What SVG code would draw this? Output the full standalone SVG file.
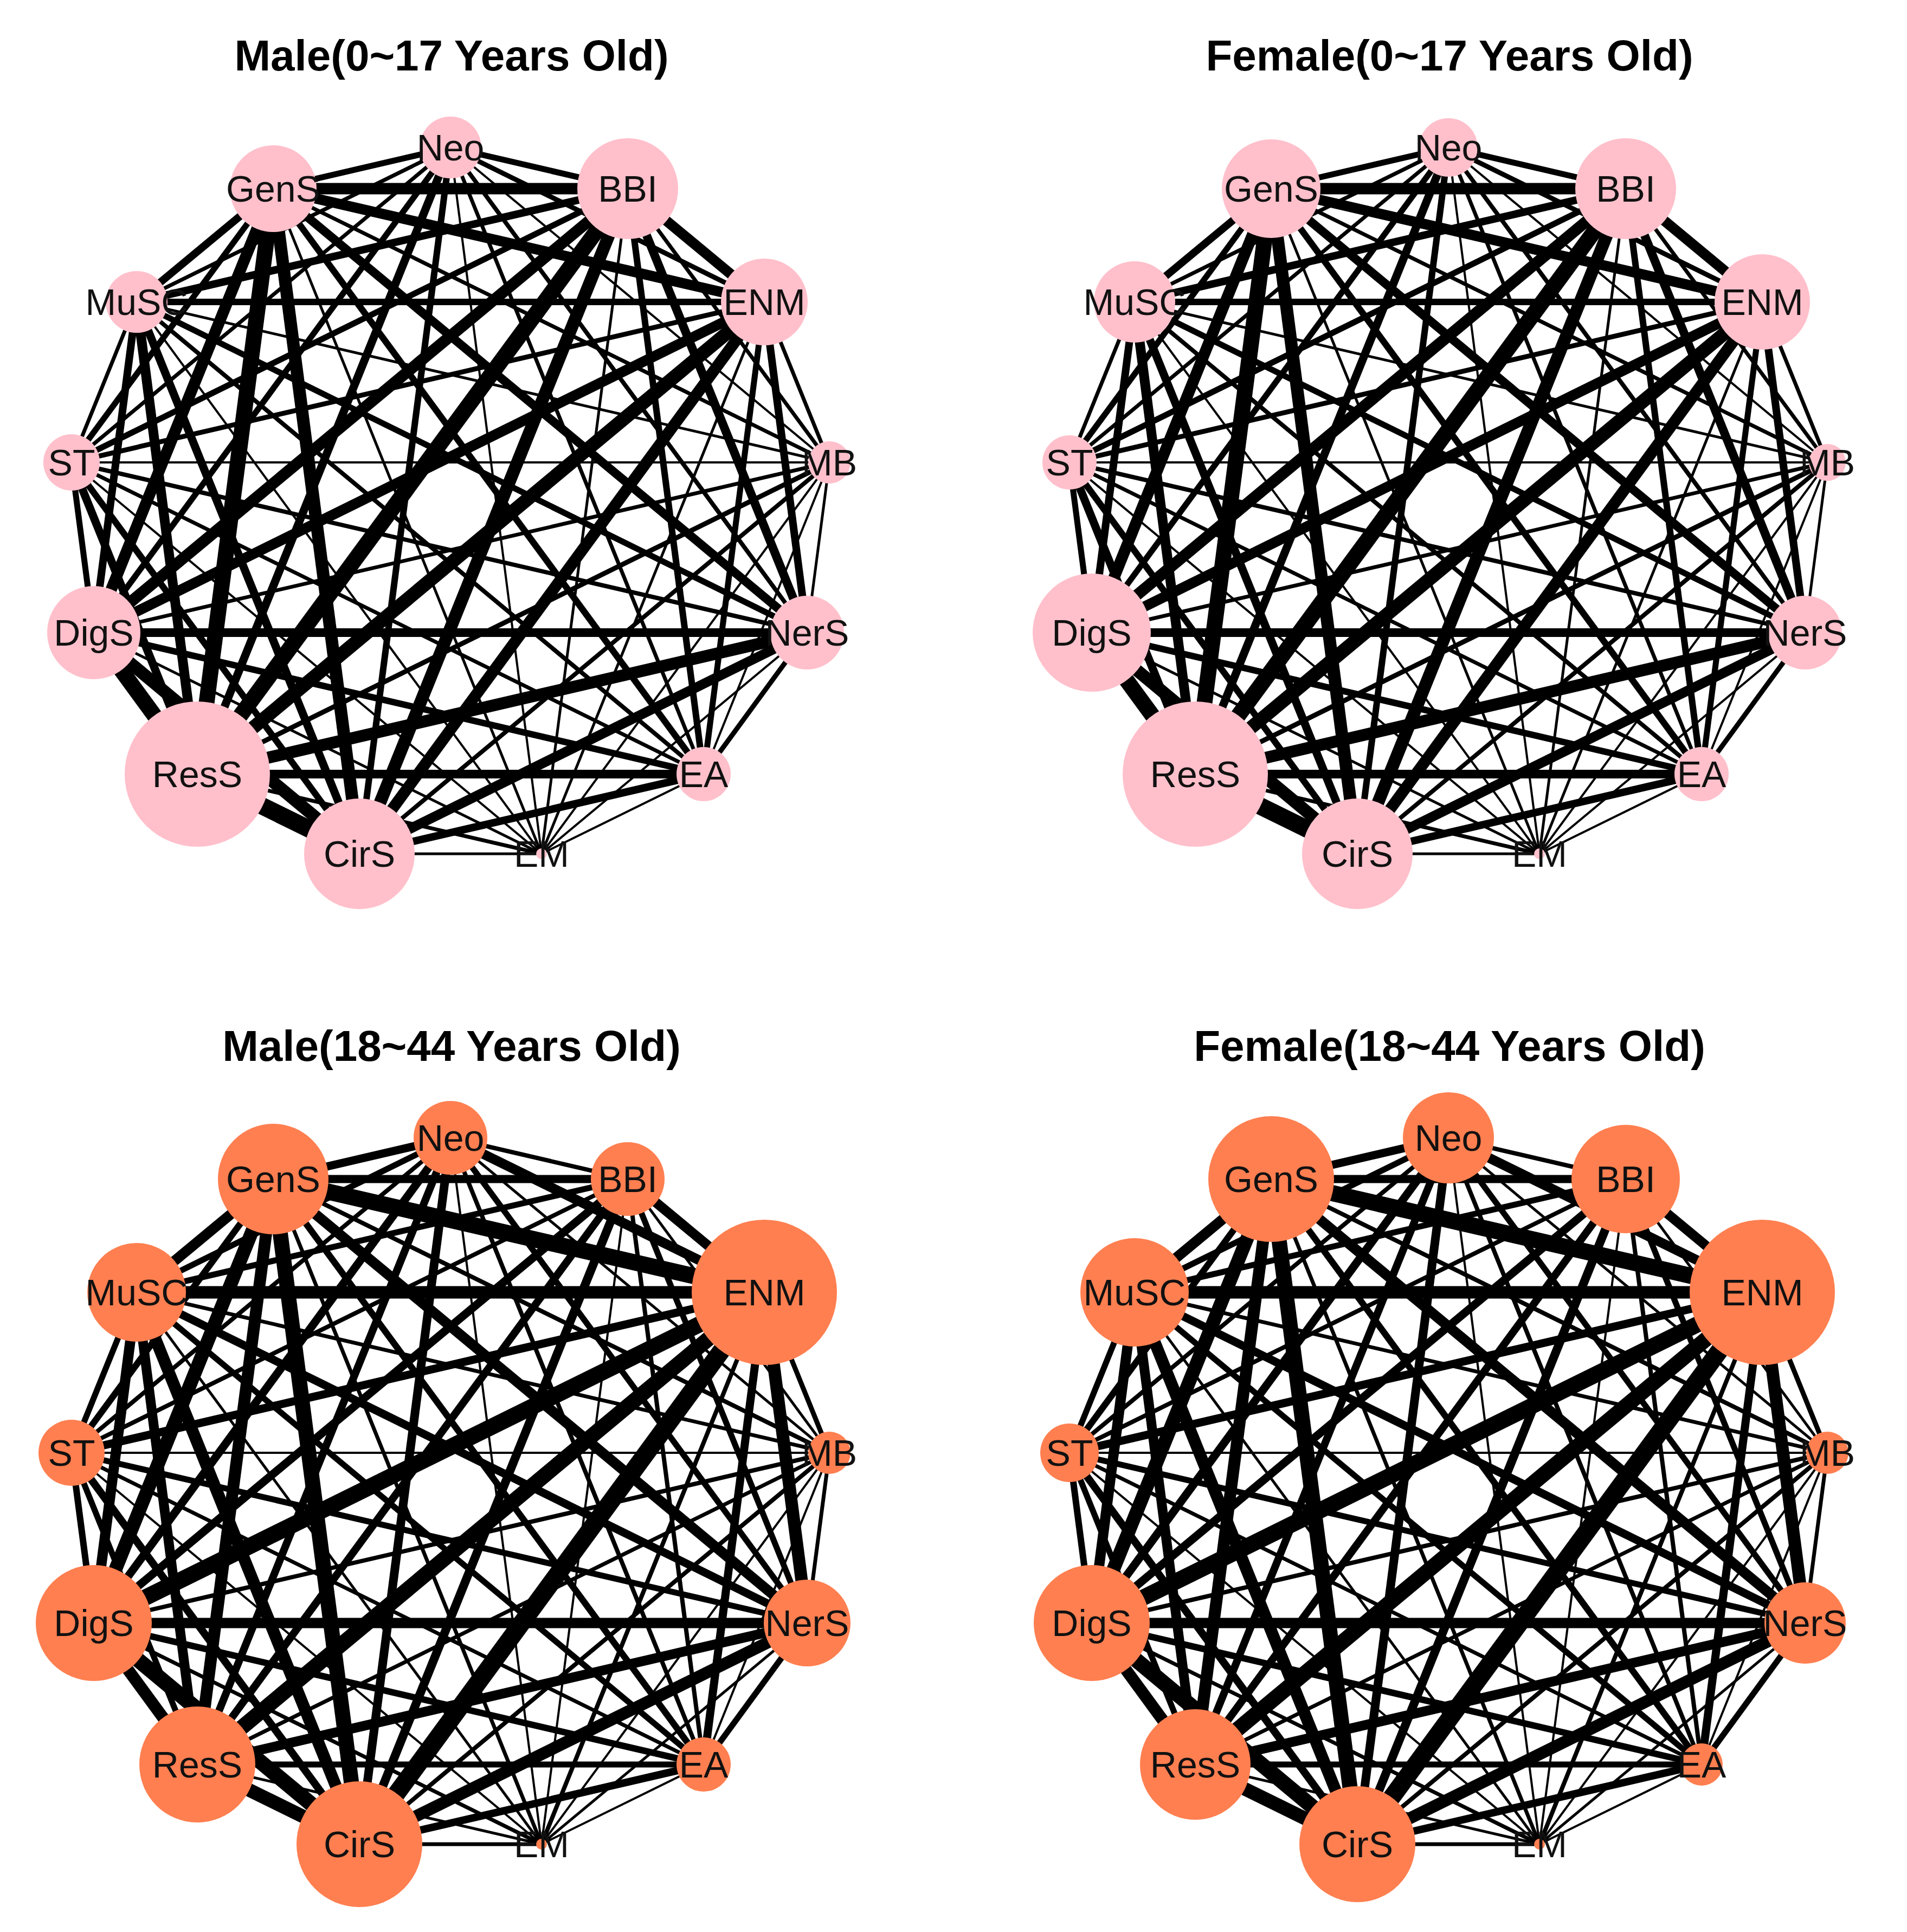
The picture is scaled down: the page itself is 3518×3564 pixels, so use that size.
<svg xmlns="http://www.w3.org/2000/svg" xmlns:xlink="http://www.w3.org/1999/xlink" width="3518" height="3564" viewBox="0 0 3518 3564">
<style>
.t{font-family:"Liberation Sans",Arial,sans-serif;font-weight:bold;font-size:80px;text-anchor:middle;fill:#000}
.l{font-family:"Liberation Sans",Arial,sans-serif;font-size:68px;text-anchor:middle;dominant-baseline:central;fill:#111}
.p{fill:#FFC0CB}
.o{fill:#FF7F50}
line{stroke:#000;stroke-linecap:butt}
</style>
<defs>
<g id="eT">
<line x1="831" y1="272" x2="1158" y2="348" stroke-width="11"/>
<line x1="831" y1="272" x2="1410" y2="557" stroke-width="9"/>
<line x1="831" y1="272" x2="1530" y2="853" stroke-width="4"/>
<line x1="831" y1="272" x2="1489" y2="1167" stroke-width="8"/>
<line x1="831" y1="272" x2="1298" y2="1428" stroke-width="7"/>
<line x1="831" y1="272" x2="999" y2="1575" stroke-width="4"/>
<line x1="831" y1="272" x2="663" y2="1575" stroke-width="12"/>
<line x1="831" y1="272" x2="364" y2="1428" stroke-width="15"/>
<line x1="831" y1="272" x2="173" y2="1167" stroke-width="11"/>
<line x1="831" y1="272" x2="132" y2="853" stroke-width="7"/>
<line x1="831" y1="272" x2="252" y2="557" stroke-width="7"/>
<line x1="831" y1="272" x2="504" y2="348" stroke-width="11"/>
<line x1="1158" y1="348" x2="1410" y2="557" stroke-width="19"/>
<line x1="1158" y1="348" x2="1530" y2="853" stroke-width="7"/>
<line x1="1158" y1="348" x2="1489" y2="1167" stroke-width="16"/>
<line x1="1158" y1="348" x2="1298" y2="1428" stroke-width="12"/>
<line x1="1158" y1="348" x2="999" y2="1575" stroke-width="5"/>
<line x1="1158" y1="348" x2="663" y2="1575" stroke-width="23"/>
<line x1="1158" y1="348" x2="364" y2="1428" stroke-width="29"/>
<line x1="1158" y1="348" x2="173" y2="1167" stroke-width="21"/>
<line x1="1158" y1="348" x2="132" y2="853" stroke-width="11"/>
<line x1="1158" y1="348" x2="252" y2="557" stroke-width="14"/>
<line x1="1158" y1="348" x2="504" y2="348" stroke-width="21"/>
<line x1="1410" y1="557" x2="1530" y2="853" stroke-width="7"/>
<line x1="1410" y1="557" x2="1489" y2="1167" stroke-width="14"/>
<line x1="1410" y1="557" x2="1298" y2="1428" stroke-width="11"/>
<line x1="1410" y1="557" x2="999" y2="1575" stroke-width="5"/>
<line x1="1410" y1="557" x2="663" y2="1575" stroke-width="21"/>
<line x1="1410" y1="557" x2="364" y2="1428" stroke-width="25"/>
<line x1="1410" y1="557" x2="173" y2="1167" stroke-width="19"/>
<line x1="1410" y1="557" x2="132" y2="853" stroke-width="9"/>
<line x1="1410" y1="557" x2="252" y2="557" stroke-width="12"/>
<line x1="1410" y1="557" x2="504" y2="348" stroke-width="19"/>
<line x1="1530" y1="853" x2="1489" y2="1167" stroke-width="5"/>
<line x1="1530" y1="853" x2="1298" y2="1428" stroke-width="4"/>
<line x1="1530" y1="853" x2="999" y2="1575" stroke-width="4"/>
<line x1="1530" y1="853" x2="663" y2="1575" stroke-width="8"/>
<line x1="1530" y1="853" x2="364" y2="1428" stroke-width="9"/>
<line x1="1530" y1="853" x2="173" y2="1167" stroke-width="7"/>
<line x1="1530" y1="853" x2="132" y2="853" stroke-width="4"/>
<line x1="1530" y1="853" x2="252" y2="557" stroke-width="5"/>
<line x1="1530" y1="853" x2="504" y2="348" stroke-width="7"/>
<line x1="1489" y1="1167" x2="1298" y2="1428" stroke-width="9"/>
<line x1="1489" y1="1167" x2="999" y2="1575" stroke-width="4"/>
<line x1="1489" y1="1167" x2="663" y2="1575" stroke-width="18"/>
<line x1="1489" y1="1167" x2="364" y2="1428" stroke-width="22"/>
<line x1="1489" y1="1167" x2="173" y2="1167" stroke-width="16"/>
<line x1="1489" y1="1167" x2="132" y2="853" stroke-width="8"/>
<line x1="1489" y1="1167" x2="252" y2="557" stroke-width="11"/>
<line x1="1489" y1="1167" x2="504" y2="348" stroke-width="16"/>
<line x1="1298" y1="1428" x2="999" y2="1575" stroke-width="4"/>
<line x1="1298" y1="1428" x2="663" y2="1575" stroke-width="14"/>
<line x1="1298" y1="1428" x2="364" y2="1428" stroke-width="16"/>
<line x1="1298" y1="1428" x2="173" y2="1167" stroke-width="12"/>
<line x1="1298" y1="1428" x2="132" y2="853" stroke-width="7"/>
<line x1="1298" y1="1428" x2="252" y2="557" stroke-width="8"/>
<line x1="1298" y1="1428" x2="504" y2="348" stroke-width="12"/>
<line x1="999" y1="1575" x2="663" y2="1575" stroke-width="5"/>
<line x1="999" y1="1575" x2="364" y2="1428" stroke-width="7"/>
<line x1="999" y1="1575" x2="173" y2="1167" stroke-width="5"/>
<line x1="999" y1="1575" x2="132" y2="853" stroke-width="4"/>
<line x1="999" y1="1575" x2="252" y2="557" stroke-width="4"/>
<line x1="999" y1="1575" x2="504" y2="348" stroke-width="5"/>
<line x1="663" y1="1575" x2="364" y2="1428" stroke-width="32"/>
<line x1="663" y1="1575" x2="173" y2="1167" stroke-width="23"/>
<line x1="663" y1="1575" x2="132" y2="853" stroke-width="12"/>
<line x1="663" y1="1575" x2="252" y2="557" stroke-width="15"/>
<line x1="663" y1="1575" x2="504" y2="348" stroke-width="23"/>
<line x1="364" y1="1428" x2="173" y2="1167" stroke-width="29"/>
<line x1="364" y1="1428" x2="132" y2="853" stroke-width="15"/>
<line x1="364" y1="1428" x2="252" y2="557" stroke-width="18"/>
<line x1="364" y1="1428" x2="504" y2="348" stroke-width="29"/>
<line x1="173" y1="1167" x2="132" y2="853" stroke-width="11"/>
<line x1="173" y1="1167" x2="252" y2="557" stroke-width="14"/>
<line x1="173" y1="1167" x2="504" y2="348" stroke-width="21"/>
<line x1="132" y1="853" x2="252" y2="557" stroke-width="7"/>
<line x1="132" y1="853" x2="504" y2="348" stroke-width="11"/>
<line x1="252" y1="557" x2="504" y2="348" stroke-width="14"/>
</g>
<g id="eB">
<line x1="831" y1="272" x2="1158" y2="348" stroke-width="8"/>
<line x1="831" y1="272" x2="1410" y2="557" stroke-width="18"/>
<line x1="831" y1="272" x2="1530" y2="853" stroke-width="5"/>
<line x1="831" y1="272" x2="1489" y2="1167" stroke-width="11"/>
<line x1="831" y1="272" x2="1298" y2="1428" stroke-width="8"/>
<line x1="831" y1="272" x2="999" y2="1575" stroke-width="4"/>
<line x1="831" y1="272" x2="663" y2="1575" stroke-width="16"/>
<line x1="831" y1="272" x2="364" y2="1428" stroke-width="14"/>
<line x1="831" y1="272" x2="173" y2="1167" stroke-width="15"/>
<line x1="831" y1="272" x2="132" y2="853" stroke-width="8"/>
<line x1="831" y1="272" x2="252" y2="557" stroke-width="11"/>
<line x1="831" y1="272" x2="504" y2="348" stroke-width="15"/>
<line x1="1158" y1="348" x2="1410" y2="557" stroke-width="18"/>
<line x1="1158" y1="348" x2="1530" y2="853" stroke-width="5"/>
<line x1="1158" y1="348" x2="1489" y2="1167" stroke-width="11"/>
<line x1="1158" y1="348" x2="1298" y2="1428" stroke-width="8"/>
<line x1="1158" y1="348" x2="999" y2="1575" stroke-width="4"/>
<line x1="1158" y1="348" x2="663" y2="1575" stroke-width="16"/>
<line x1="1158" y1="348" x2="364" y2="1428" stroke-width="14"/>
<line x1="1158" y1="348" x2="173" y2="1167" stroke-width="15"/>
<line x1="1158" y1="348" x2="132" y2="853" stroke-width="8"/>
<line x1="1158" y1="348" x2="252" y2="557" stroke-width="11"/>
<line x1="1158" y1="348" x2="504" y2="348" stroke-width="15"/>
<line x1="1410" y1="557" x2="1530" y2="853" stroke-width="9"/>
<line x1="1410" y1="557" x2="1489" y2="1167" stroke-width="23"/>
<line x1="1410" y1="557" x2="1298" y2="1428" stroke-width="15"/>
<line x1="1410" y1="557" x2="999" y2="1575" stroke-width="8"/>
<line x1="1410" y1="557" x2="663" y2="1575" stroke-width="33"/>
<line x1="1410" y1="557" x2="364" y2="1428" stroke-width="28"/>
<line x1="1410" y1="557" x2="173" y2="1167" stroke-width="30"/>
<line x1="1410" y1="557" x2="132" y2="853" stroke-width="15"/>
<line x1="1410" y1="557" x2="252" y2="557" stroke-width="23"/>
<line x1="1410" y1="557" x2="504" y2="348" stroke-width="30"/>
<line x1="1530" y1="853" x2="1489" y2="1167" stroke-width="7"/>
<line x1="1530" y1="853" x2="1298" y2="1428" stroke-width="4"/>
<line x1="1530" y1="853" x2="999" y2="1575" stroke-width="4"/>
<line x1="1530" y1="853" x2="663" y2="1575" stroke-width="8"/>
<line x1="1530" y1="853" x2="364" y2="1428" stroke-width="7"/>
<line x1="1530" y1="853" x2="173" y2="1167" stroke-width="8"/>
<line x1="1530" y1="853" x2="132" y2="853" stroke-width="4"/>
<line x1="1530" y1="853" x2="252" y2="557" stroke-width="7"/>
<line x1="1530" y1="853" x2="504" y2="348" stroke-width="8"/>
<line x1="1489" y1="1167" x2="1298" y2="1428" stroke-width="11"/>
<line x1="1489" y1="1167" x2="999" y2="1575" stroke-width="5"/>
<line x1="1489" y1="1167" x2="663" y2="1575" stroke-width="22"/>
<line x1="1489" y1="1167" x2="364" y2="1428" stroke-width="18"/>
<line x1="1489" y1="1167" x2="173" y2="1167" stroke-width="19"/>
<line x1="1489" y1="1167" x2="132" y2="853" stroke-width="11"/>
<line x1="1489" y1="1167" x2="252" y2="557" stroke-width="15"/>
<line x1="1489" y1="1167" x2="504" y2="348" stroke-width="19"/>
<line x1="1298" y1="1428" x2="999" y2="1575" stroke-width="4"/>
<line x1="1298" y1="1428" x2="663" y2="1575" stroke-width="14"/>
<line x1="1298" y1="1428" x2="364" y2="1428" stroke-width="11"/>
<line x1="1298" y1="1428" x2="173" y2="1167" stroke-width="12"/>
<line x1="1298" y1="1428" x2="132" y2="853" stroke-width="7"/>
<line x1="1298" y1="1428" x2="252" y2="557" stroke-width="11"/>
<line x1="1298" y1="1428" x2="504" y2="348" stroke-width="12"/>
<line x1="999" y1="1575" x2="663" y2="1575" stroke-width="7"/>
<line x1="999" y1="1575" x2="364" y2="1428" stroke-width="5"/>
<line x1="999" y1="1575" x2="173" y2="1167" stroke-width="7"/>
<line x1="999" y1="1575" x2="132" y2="853" stroke-width="4"/>
<line x1="999" y1="1575" x2="252" y2="557" stroke-width="5"/>
<line x1="999" y1="1575" x2="504" y2="348" stroke-width="7"/>
<line x1="663" y1="1575" x2="364" y2="1428" stroke-width="25"/>
<line x1="663" y1="1575" x2="173" y2="1167" stroke-width="28"/>
<line x1="663" y1="1575" x2="132" y2="853" stroke-width="14"/>
<line x1="663" y1="1575" x2="252" y2="557" stroke-width="22"/>
<line x1="663" y1="1575" x2="504" y2="348" stroke-width="28"/>
<line x1="364" y1="1428" x2="173" y2="1167" stroke-width="22"/>
<line x1="364" y1="1428" x2="132" y2="853" stroke-width="11"/>
<line x1="364" y1="1428" x2="252" y2="557" stroke-width="18"/>
<line x1="364" y1="1428" x2="504" y2="348" stroke-width="22"/>
<line x1="173" y1="1167" x2="132" y2="853" stroke-width="12"/>
<line x1="173" y1="1167" x2="252" y2="557" stroke-width="19"/>
<line x1="173" y1="1167" x2="504" y2="348" stroke-width="25"/>
<line x1="132" y1="853" x2="252" y2="557" stroke-width="11"/>
<line x1="132" y1="853" x2="504" y2="348" stroke-width="12"/>
<line x1="252" y1="557" x2="504" y2="348" stroke-width="19"/>
</g>
</defs>
<rect width="3518" height="3564" fill="#fff"/>
<g id="titles">
<text class="t" x="833" y="130">Male(0~17 Years Old)</text>
<text class="t" x="2674" y="130">Female(0~17 Years Old)</text>
<text class="t" x="833" y="1957">Male(18~44 Years Old)</text>
<text class="t" x="2674" y="1957">Female(18~44 Years Old)</text>
</g>
<g id="connectors">
<use xlink:href="#eT"/>
<use xlink:href="#eT" transform="translate(1841,0)"/>
<use xlink:href="#eB" transform="translate(0,1827)"/>
<use xlink:href="#eB" transform="translate(1841,1827)"/>
</g>
<g id="panel-male-0-17">
<g id="m1-Neo"><circle class="p" cx="831" cy="272" r="57"/><text class="l" x="831" y="272">Neo</text></g>
<g id="m1-BBI"><circle class="p" cx="1158" cy="348" r="93"/><text class="l" x="1158" y="348">BBI</text></g>
<g id="m1-ENM"><circle class="p" cx="1410" cy="557" r="80"/><text class="l" x="1410" y="557">ENM</text></g>
<g id="m1-MB"><circle class="p" cx="1530" cy="853" r="39"/><text class="l" x="1530" y="853">MB</text></g>
<g id="m1-NerS"><circle class="p" cx="1489" cy="1167" r="68"/><text class="l" x="1489" y="1167">NerS</text></g>
<g id="m1-EA"><circle class="p" cx="1298" cy="1428" r="50"/><text class="l" x="1298" y="1428">EA</text></g>
<g id="m1-EM"><circle class="p" cx="999" cy="1575" r="10"/><text class="l" x="999" y="1575">EM</text></g>
<g id="m1-CirS"><circle class="p" cx="663" cy="1575" r="102"/><text class="l" x="663" y="1575">CirS</text></g>
<g id="m1-ResS"><circle class="p" cx="364" cy="1428" r="134"/><text class="l" x="364" y="1428">ResS</text></g>
<g id="m1-DigS"><circle class="p" cx="173" cy="1167" r="86"/><text class="l" x="173" y="1167">DigS</text></g>
<g id="m1-ST"><circle class="p" cx="132" cy="853" r="52"/><text class="l" x="132" y="853">ST</text></g>
<g id="m1-MuSC"><circle class="p" cx="252" cy="557" r="57"/><text class="l" x="252" y="557">MuSC</text></g>
<g id="m1-GenS"><circle class="p" cx="504" cy="348" r="80"/><text class="l" x="504" y="348">GenS</text></g>
</g>
<g id="panel-female-0-17" transform="translate(1841,0)">
<g id="f1-Neo"><circle class="p" cx="831" cy="272" r="54"/><text class="l" x="831" y="272">Neo</text></g>
<g id="f1-BBI"><circle class="p" cx="1158" cy="348" r="93"/><text class="l" x="1158" y="348">BBI</text></g>
<g id="f1-ENM"><circle class="p" cx="1410" cy="557" r="88"/><text class="l" x="1410" y="557">ENM</text></g>
<g id="f1-MB"><circle class="p" cx="1530" cy="853" r="34"/><text class="l" x="1530" y="853">MB</text></g>
<g id="f1-NerS"><circle class="p" cx="1489" cy="1167" r="68"/><text class="l" x="1489" y="1167">NerS</text></g>
<g id="f1-EA"><circle class="p" cx="1298" cy="1428" r="50"/><text class="l" x="1298" y="1428">EA</text></g>
<g id="f1-EM"><circle class="p" cx="999" cy="1575" r="10"/><text class="l" x="999" y="1575">EM</text></g>
<g id="f1-CirS"><circle class="p" cx="663" cy="1575" r="102"/><text class="l" x="663" y="1575">CirS</text></g>
<g id="f1-ResS"><circle class="p" cx="364" cy="1428" r="134"/><text class="l" x="364" y="1428">ResS</text></g>
<g id="f1-DigS"><circle class="p" cx="173" cy="1167" r="109"/><text class="l" x="173" y="1167">DigS</text></g>
<g id="f1-ST"><circle class="p" cx="132" cy="853" r="50"/><text class="l" x="132" y="853">ST</text></g>
<g id="f1-MuSC"><circle class="p" cx="252" cy="557" r="75"/><text class="l" x="252" y="557">MuSC</text></g>
<g id="f1-GenS"><circle class="p" cx="504" cy="348" r="91"/><text class="l" x="504" y="348">GenS</text></g>
</g>
<g id="panel-male-18-44" transform="translate(0,1827)">
<g id="m2-Neo"><circle class="o" cx="831" cy="272" r="68"/><text class="l" x="831" y="272">Neo</text></g>
<g id="m2-BBI"><circle class="o" cx="1158" cy="348" r="68"/><text class="l" x="1158" y="348">BBI</text></g>
<g id="m2-ENM"><circle class="o" cx="1410" cy="557" r="134"/><text class="l" x="1410" y="557">ENM</text></g>
<g id="m2-MB"><circle class="o" cx="1530" cy="853" r="39"/><text class="l" x="1530" y="853">MB</text></g>
<g id="m2-NerS"><circle class="o" cx="1489" cy="1167" r="80"/><text class="l" x="1489" y="1167">NerS</text></g>
<g id="m2-EA"><circle class="o" cx="1298" cy="1428" r="50"/><text class="l" x="1298" y="1428">EA</text></g>
<g id="m2-EM"><circle class="o" cx="999" cy="1575" r="10"/><text class="l" x="999" y="1575">EM</text></g>
<g id="m2-CirS"><circle class="o" cx="663" cy="1575" r="116"/><text class="l" x="663" y="1575">CirS</text></g>
<g id="m2-ResS"><circle class="o" cx="364" cy="1428" r="107"/><text class="l" x="364" y="1428">ResS</text></g>
<g id="m2-DigS"><circle class="o" cx="173" cy="1167" r="107"/><text class="l" x="173" y="1167">DigS</text></g>
<g id="m2-ST"><circle class="o" cx="132" cy="853" r="61"/><text class="l" x="132" y="853">ST</text></g>
<g id="m2-MuSC"><circle class="o" cx="252" cy="557" r="91"/><text class="l" x="252" y="557">MuSC</text></g>
<g id="m2-GenS"><circle class="o" cx="504" cy="348" r="102"/><text class="l" x="504" y="348">GenS</text></g>
</g>
<g id="panel-female-18-44" transform="translate(1841,1827)">
<g id="f2-Neo"><circle class="o" cx="831" cy="272" r="84"/><text class="l" x="831" y="272">Neo</text></g>
<g id="f2-BBI"><circle class="o" cx="1158" cy="348" r="100"/><text class="l" x="1158" y="348">BBI</text></g>
<g id="f2-ENM"><circle class="o" cx="1410" cy="557" r="134"/><text class="l" x="1410" y="557">ENM</text></g>
<g id="f2-MB"><circle class="o" cx="1530" cy="853" r="39"/><text class="l" x="1530" y="853">MB</text></g>
<g id="f2-NerS"><circle class="o" cx="1489" cy="1167" r="75"/><text class="l" x="1489" y="1167">NerS</text></g>
<g id="f2-EA"><circle class="o" cx="1298" cy="1428" r="39"/><text class="l" x="1298" y="1428">EA</text></g>
<g id="f2-EM"><circle class="o" cx="999" cy="1575" r="10"/><text class="l" x="999" y="1575">EM</text></g>
<g id="f2-CirS"><circle class="o" cx="663" cy="1575" r="107"/><text class="l" x="663" y="1575">CirS</text></g>
<g id="f2-ResS"><circle class="o" cx="364" cy="1428" r="102"/><text class="l" x="364" y="1428">ResS</text></g>
<g id="f2-DigS"><circle class="o" cx="173" cy="1167" r="107"/><text class="l" x="173" y="1167">DigS</text></g>
<g id="f2-ST"><circle class="o" cx="132" cy="853" r="54"/><text class="l" x="132" y="853">ST</text></g>
<g id="f2-MuSC"><circle class="o" cx="252" cy="557" r="100"/><text class="l" x="252" y="557">MuSC</text></g>
<g id="f2-GenS"><circle class="o" cx="504" cy="348" r="116"/><text class="l" x="504" y="348">GenS</text></g>
</g>
</svg>
